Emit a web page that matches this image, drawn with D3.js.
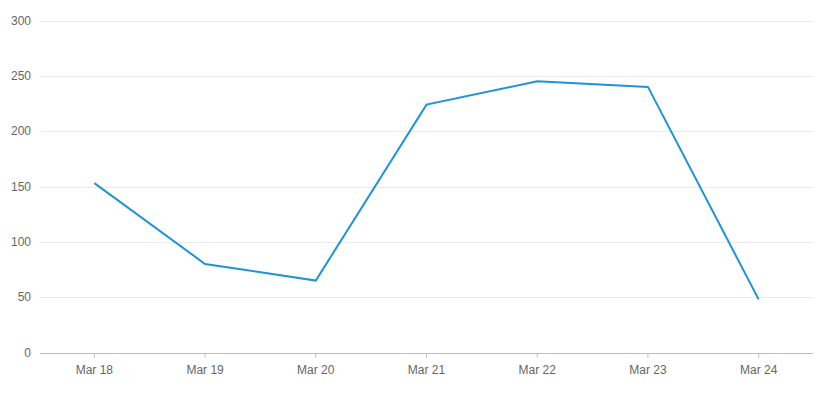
<!DOCTYPE html>
<html>
<head>
<meta charset="utf-8">
<script src="https://cdn.jsdelivr.net/npm/d3@7"></script>
<style>
  html, body { margin: 0; padding: 0; background: #fff; }
  svg { display: block; }
  text { font-family: "Liberation Sans", Arial, sans-serif; }
</style>
</head>
<body>
<svg id="chart" width="817" height="398"></svg>
<script>
const categories = ["Mar 18", "Mar 19", "Mar 20", "Mar 21", "Mar 22", "Mar 23", "Mar 24"];
const values = [153, 80, 65, 224, 245, 240, 48];
const yTicks = [0, 50, 100, 150, 200, 250, 300];

const svg = d3.select("#chart");
const mLeft = 39, mRight = 814, mTop = 20.5, mBottom = 352.5;

const x = d3.scaleBand().domain(categories).range([mLeft, mRight]).padding(0);
const y = d3.scaleLinear().domain([0, 300]).range([mBottom, mTop]);

// gridlines
svg.append("g")
  .selectAll("line")
  .data(yTicks.filter(d => d > 0))
  .join("line")
  .attr("x1", 40).attr("x2", 813)
  .attr("y1", d => Math.round(y(d)) + 0.5)
  .attr("y2", d => Math.round(y(d)) + 0.5)
  .attr("stroke", "#ebebeb")
  .attr("stroke-width", 1);

// y labels
svg.append("g")
  .selectAll("text")
  .data(yTicks)
  .join("text")
  .attr("x", 31)
  .attr("y", d => y(d))
  .attr("dy", "0.35em")
  .attr("text-anchor", "end")
  .attr("font-size", 12)
  .attr("fill", "#666")
  .text(d => d);

// x axis
const xAxis = d3.axisBottom(x).tickSize(4).tickPadding(8);
const gx = svg.append("g")
  .attr("transform", `translate(0,${Math.round(mBottom) + 0.5})`)
  .call(xAxis);
gx.select(".domain").attr("stroke", "#bdbdbd").attr("d", `M40,0H813`);
gx.selectAll(".tick line").attr("stroke", "#bdbdbd");
gx.selectAll(".tick text")
  .attr("font-size", 12)
  .attr("fill", "#666")
  .attr("font-family", "Liberation Sans, Arial, sans-serif");

// line
const line = d3.line()
  .x((d, i) => x(categories[i]) + x.bandwidth() / 2)
  .y(d => y(d));

svg.append("path")
  .datum(values)
  .attr("fill", "none")
  .attr("stroke", "#1f93d9")
  .attr("stroke-width", 2)
  .attr("stroke-linejoin", "miter")
  .attr("d", line);
</script>
</body>
</html>
